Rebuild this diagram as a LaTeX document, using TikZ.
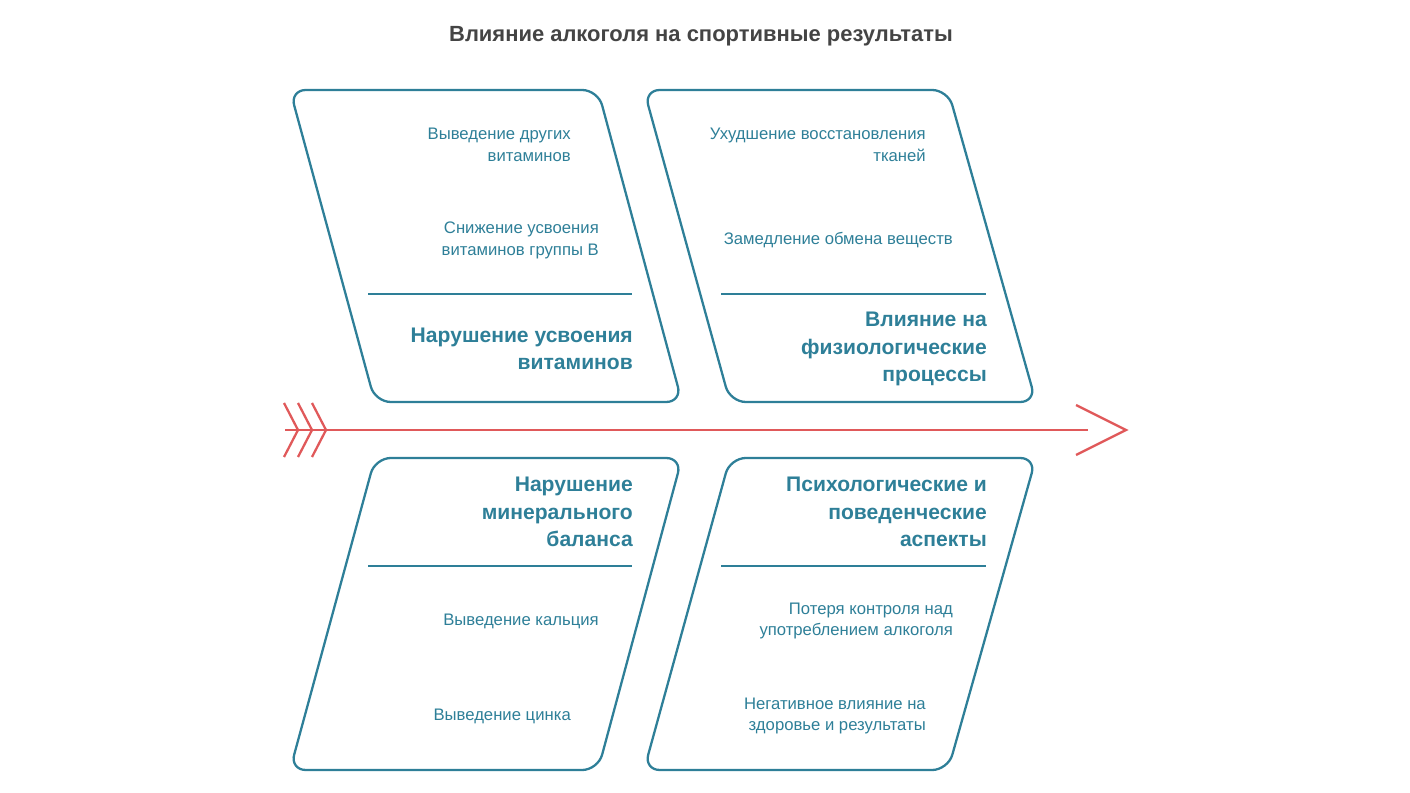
\documentclass[tikz,border=0pt]{standalone}
\usepackage{fontspec}
\setmainfont{Liberation Sans}
\definecolor{teal}{HTML}{2E7F98}
\definecolor{fishred}{HTML}{E0595A}
\definecolor{titlegray}{HTML}{444444}
\tikzset{
  bone/.style={draw=teal, line width=1.3pt, rounded corners=9pt},
  item/.style={anchor=east, align=right, text=teal, font=\fontsize{9.5}{12.5}\selectfont},
  head/.style={anchor=east, align=right, text=teal, font=\bfseries\fontsize{12}{15.5}\selectfont},
  split/.style={draw=teal, line width=1pt}
}
\begin{document}
\begin{tikzpicture}[x=0.02cm, y=-0.02cm]
  \useasboundingbox (0,0) rectangle (1410,793);

  \node[text=titlegray, font=\bfseries\fontsize{12.5}{15}\selectfont] (title) at (701,36) {Влияние алкоголя на спортивные результаты};

  %-------------
  \draw[bone] (290,90) -- (598,90) -- (682,402) -- (375,402) -- cycle;
  \draw[bone] (644,90) -- (948,90) -- (1036,402) -- (730,402) -- cycle;
  \draw[bone] (375,458) -- (682,458) -- (598,770) -- (290,770) -- cycle;
  \draw[bone] (730,458) -- (1036,458) -- (948,770) -- (644,770) -- cycle;

  \draw[split] (368,294) -- (632,294);
  \draw[split] (721,294) -- (986,294);
  \draw[split] (368,566) -- (632,566);
  \draw[split] (721,566) -- (986,566);

  %-------------
  \node[item] (tl1) at (577,145) {Выведение других\\витаминов};
  \node[item] (tl2) at (605,240) {Снижение усвоения\\витаминов группы В};
  \node[head] (tlh) at (639,349) {Нарушение усвоения\\витаминов};

  \node[item] (tr1) at (932,145) {Ухудшение восстановления\\тканей};
  \node[item] (tr2) at (959,240) {Замедление обмена веществ};
  \node[head] (trh) at (993,349) {Влияние на\\физиологические\\процессы};

  \node[head] (blh) at (639,512) {Нарушение\\минерального\\баланса};
  \node[item] (bl1) at (605,621) {Выведение кальция};
  \node[item] (bl2) at (577,716) {Выведение цинка};

  \node[head] (brh) at (993,512) {Психологические и\\поведенческие\\аспекты};
  \node[item] (br1) at (959,621) {Потеря контроля над\\употреблением алкоголя};
  \node[item] (br2) at (932,716) {Негативное влияние на\\здоровье и результаты};

  %-------------
  \coordinate (tail) at (285,430);
  \coordinate (tip) at (1088,430);
  \draw[fishred, line width=1.3pt] (tail) -- (tip);
  \draw[fishred, line width=1.3pt] (1076,405) -- (1126,430) -- (1076,455);
  \foreach \x in {284,298,312}
    \draw[fishred, line width=1.3pt] (\x,403) -- (\x+14,430) -- (\x,457);
\end{tikzpicture}
\end{document}
